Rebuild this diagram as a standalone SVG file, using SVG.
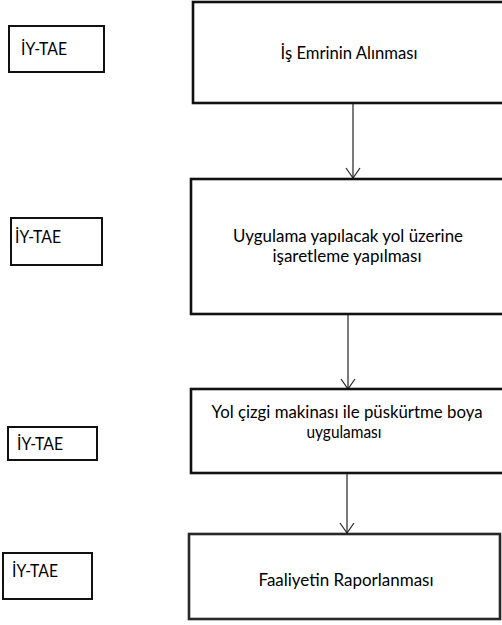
<svg xmlns="http://www.w3.org/2000/svg" width="502" height="625" viewBox="0 0 502 625">
<style>
.big{fill:#fff;stroke:#111;stroke-width:2.6}
.small{fill:#fff;stroke:#111;stroke-width:2}
.t{font-family:Lato,"Open Sans","Liberation Sans",sans-serif;fill:#000;font-size:17px}
.m{text-anchor:middle}
.c{stroke:#222;stroke-width:1.2;fill:none}
</style>
<defs>
<marker id="ah" markerWidth="14" markerHeight="16" refX="11" refY="8" orient="auto" markerUnits="userSpaceOnUse" viewBox="0 0 14 16">
<path d="M1,1 L11,8 L1,15" fill="none" stroke="#222" stroke-width="1.2"/>
</marker>
</defs>
<rect width="502" height="625" fill="#fff"/>
<g id="connectors">
<line class="c" x1="353" y1="104" x2="353" y2="178" marker-end="url(#ah)"/>
<line class="c" x1="348" y1="315" x2="348" y2="389" marker-end="url(#ah)"/>
<line class="c" x1="347" y1="474" x2="347" y2="533" marker-end="url(#ah)"/>
</g>
<g id="n1">
<rect class="big" x="193" y="2" width="320" height="101"/>
<text class="t m" x="349" y="59" textLength="137" lengthAdjust="spacingAndGlyphs">İş Emrinin Alınması</text>
</g>
<g id="r1">
<rect class="small" x="9" y="26" width="95" height="46"/>
<text class="t" x="21" y="55" textLength="46" lengthAdjust="spacingAndGlyphs">İY-TAE</text>
</g>
<g id="n2">
<rect class="big" x="191" y="179" width="322" height="135"/>
<text class="t m" x="348" y="242" style="font-size:16.5px" textLength="230" lengthAdjust="spacingAndGlyphs">Uygulama yapılacak yol üzerine</text>
<text class="t m" x="347" y="262" style="font-size:16.5px" textLength="149" lengthAdjust="spacingAndGlyphs">işaretleme yapılması</text>
</g>
<g id="r2">
<rect class="small" x="11" y="218" width="91" height="47"/>
<text class="t" x="15" y="243" textLength="46" lengthAdjust="spacingAndGlyphs">İY-TAE</text>
</g>
<g id="n3">
<rect class="big" x="191" y="389" width="322" height="84"/>
<text class="t m" x="347" y="418" textLength="271" lengthAdjust="spacingAndGlyphs">Yol çizgi makinası ile püskürtme boya</text>
<text class="t m" x="344" y="438" textLength="75" lengthAdjust="spacingAndGlyphs">uygulaması</text>
</g>
<g id="r3">
<rect class="small" x="8" y="427" width="89" height="33"/>
<text class="t" x="17" y="450" textLength="46" lengthAdjust="spacingAndGlyphs">İY-TAE</text>
</g>
<g id="n4">
<rect class="big" x="189" y="534" width="311" height="85" stroke-opacity="0.9"/>
<text class="t m" x="346" y="586" textLength="175" lengthAdjust="spacingAndGlyphs">Faaliyetin Raporlanması</text>
</g>
<g id="r4">
<rect class="small" x="3" y="553" width="89" height="46"/>
<text class="t" x="12" y="577" textLength="46" lengthAdjust="spacingAndGlyphs">İY-TAE</text>
</g>
</svg>
